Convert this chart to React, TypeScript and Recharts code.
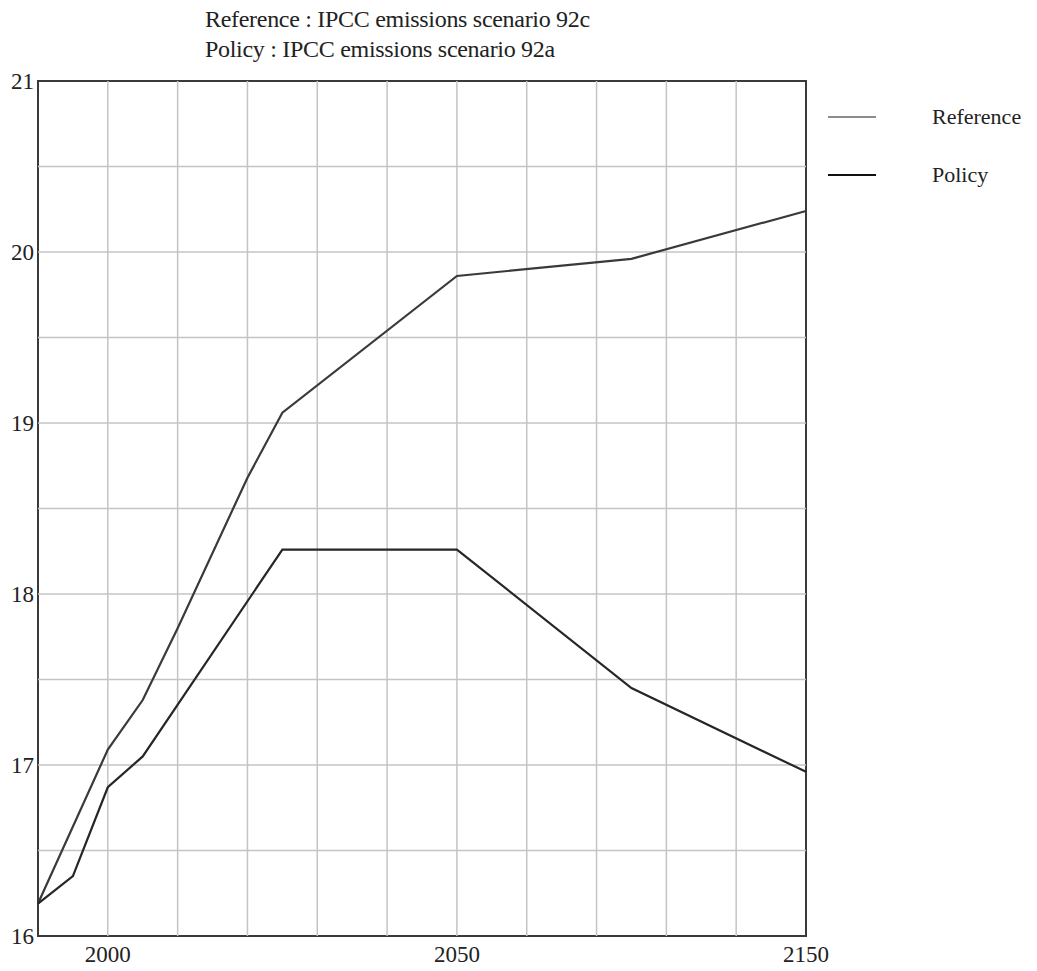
import { LineChart, Line, XAxis, YAxis, ReferenceLine, ReferenceArea } from "recharts";

// years on the x axis: 10-year grid steps up to 2050, 20-year steps after
const refYears = [1990, 2000, 2005, 2010, 2020, 2025, 2050, 2100, 2150];
const refValues = [16.19, 17.09, 17.38, 17.8, 18.68, 19.06, 19.86, 19.96, 20.24];
const policyYears = [1990, 1995, 2000, 2005, 2025, 2050, 2100, 2150];
const policyValues = [16.19, 16.35, 16.87, 17.05, 18.26, 18.26, 17.45, 16.96];

const xTickYears = [2000, 2050, 2150];
const gridYears = [2000, 2010, 2020, 2030, 2040, 2050, 2070, 2090, 2110, 2130];
const yTicks = [16, 17, 18, 19, 20, 21];
const yGrid = [16.5, 17, 17.5, 18, 18.5, 19, 19.5, 20, 20.5];

const titles = [
  "Reference : IPCC emissions scenario 92c",
  "Policy : IPCC emissions scenario 92a",
];

const FONT = '"Liberation Serif", "DejaVu Serif", serif';

// broken time scale: after 2050 the grid step doubles
const pos = (year: number) => (year <= 2050 ? year : 2050 + (year - 2050) / 2);
const unpos = (p: number) => (p <= 2050 ? p : 2050 + (p - 2050) * 2);

const refData = refYears.map((y, i) => ({ pos: pos(y), value: refValues[i] }));
const policyData = policyYears.map((y, i) => ({ pos: pos(y), value: policyValues[i] }));

const legendItems = [
  { name: "Reference", color: "#8c8c8c" },
  { name: "Policy", color: "#111" },
];

function LegendBox() {
  return (
    <div
      style={{
        position: "absolute",
        left: 828,
        top: 88,
        fontFamily: FONT,
        fontSize: 22,
        color: "#222",
      }}
    >
      {legendItems.map((it) => (
        <div key={it.name} style={{ display: "flex", alignItems: "center", height: 58 }}>
          <div style={{ width: 48, height: 2, background: it.color, marginRight: 56 }} />
          <span>{it.name}</span>
        </div>
      ))}
    </div>
  );
}

export default function App() {
  return (
    <div style={{ position: "absolute", left: 0, top: 0, width: 1037, height: 971, background: "#fff" }}>
      {titles.map((t, i) => (
        <div
          key={t}
          style={{
            position: "absolute",
            left: 205,
            top: 6 + i * 30,
            fontFamily: FONT,
            fontSize: 24,
            color: "#222",
            whiteSpace: "nowrap",
            letterSpacing: -0.3,
          }}
        >
          {t}
        </div>
      ))}
      <LegendBox />
      <LineChart width={1037} height={971} margin={{ top: 81, right: 231, bottom: 5, left: 8 }}>
        <XAxis
          type="number"
          dataKey="pos"
          domain={[1990, 2100]}
          ticks={xTickYears.map(pos)}
          tickFormatter={(v: number) => String(unpos(v))}
          axisLine={false}
          tickLine={false}
          tickSize={8}
          height={30}
          tick={{ fontFamily: FONT, fontSize: 23, fill: "#222" }}
          allowDuplicatedCategory={false}
        />
        <YAxis
          type="number"
          domain={[16, 21]}
          ticks={yTicks}
          axisLine={false}
          tickLine={false}
          tickSize={2}
          width={30}
          tick={{ fontFamily: FONT, fontSize: 23, fill: "#222" }}
        />
        {gridYears.map((y) => (
          <ReferenceLine key={"v" + y} x={pos(y)} stroke="#c4c4c4" strokeWidth={1.5} />
        ))}
        {yGrid.map((v) => (
          <ReferenceLine key={"h" + v} y={v} stroke="#c4c4c4" strokeWidth={1.5} />
        ))}
        <ReferenceArea x1={1990} x2={2100} y1={16} y2={21} fill="none" stroke="#3a3a3a" strokeWidth={2} />
        <Line
          data={refData}
          dataKey="value"
          name="Reference"
          type="linear"
          stroke="#3a3a3a"
          strokeWidth={2.2}
          dot={false}
          isAnimationActive={false}
        />
        <Line
          data={policyData}
          dataKey="value"
          name="Policy"
          type="linear"
          stroke="#262626"
          strokeWidth={2.2}
          dot={false}
          isAnimationActive={false}
        />
      </LineChart>
    </div>
  );
}
